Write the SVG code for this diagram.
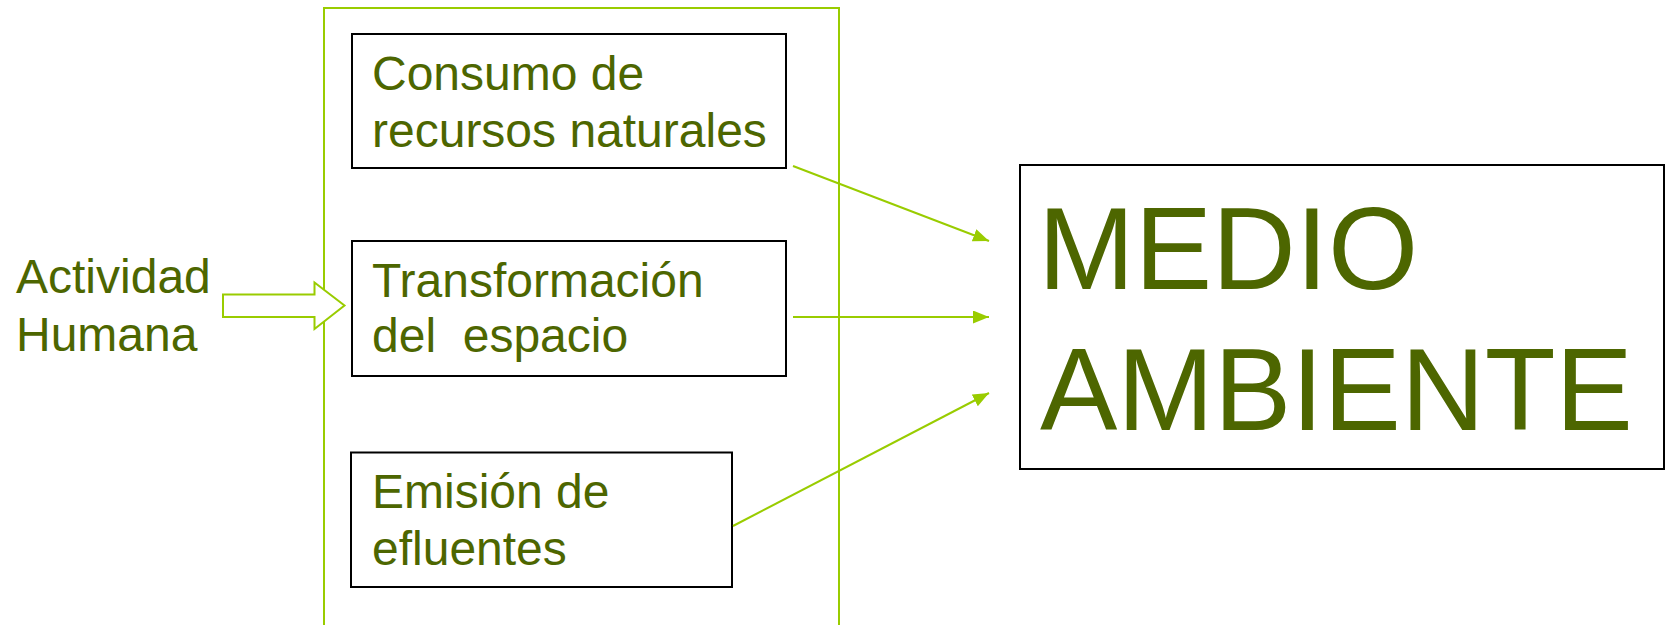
<svg xmlns="http://www.w3.org/2000/svg" width="1667" height="625" viewBox="0 0 1667 625">
<style>
.box{fill:#ffffff;stroke:#000000;stroke-width:2}
.frame{fill:none;stroke:#99cc00;stroke-width:2}
.t{font-family:"Liberation Sans",Arial,sans-serif;fill:#4d6600;font-size:48px}
.big{font-family:"Liberation Sans",Arial,sans-serif;fill:#4d6600;font-size:116px}
.conn{stroke:#99cc00;stroke-width:2;fill:none;marker-end:url(#ah)}
</style>
<defs>
<marker id="ah" markerUnits="userSpaceOnUse" markerWidth="17" markerHeight="14" refX="16" refY="6.5" orient="auto">
<path d="M0,0 L16,6.5 L0,13 z" fill="#99cc00"/>
</marker>
</defs>
<rect width="1667" height="625" fill="#ffffff"/>
<g id="frame">
<rect class="frame" x="324" y="8" width="515" height="640"/>
</g>
<g id="actividad">
<text class="t" x="16" y="293">Actividad</text>
<text class="t" x="16" y="351">Humana</text>
<path d="M223,294.5 L314.5,294.5 L314.5,282.5 L344.5,305.5 L314.5,329 L314.5,317 L223,317 Z" fill="#ffffff" stroke="#99cc00" stroke-width="2"/>
</g>
<g id="consumo">
<rect class="box" x="352" y="34" width="434" height="134"/>
<text class="t" x="372" y="89.5">Consumo de</text>
<text class="t" x="372" y="147">recursos naturales</text>
</g>
<g id="transformacion">
<rect class="box" x="352" y="241" width="434" height="135"/>
<text class="t" x="372" y="296.5">Transformación</text>
<text class="t" x="372" y="352" xml:space="preserve">del  espacio</text>
</g>
<g id="emision">
<rect class="box" x="351" y="452.5" width="381" height="134.5"/>
<text class="t" x="372" y="508">Emisión de</text>
<text class="t" x="372" y="565">efluentes</text>
</g>
<g id="medio">
<rect class="box" x="1020" y="165" width="644" height="304"/>
<text class="big" x="1038" y="289">MEDIO</text>
<text class="big" x="1040" y="430">AMBIENTE</text>
</g>
<g id="connectors">
<line class="conn" x1="793" y1="166" x2="989" y2="241"/>
<line class="conn" x1="793" y1="317" x2="989" y2="317"/>
<line class="conn" x1="733" y1="526" x2="989" y2="393"/>
</g>
</svg>
